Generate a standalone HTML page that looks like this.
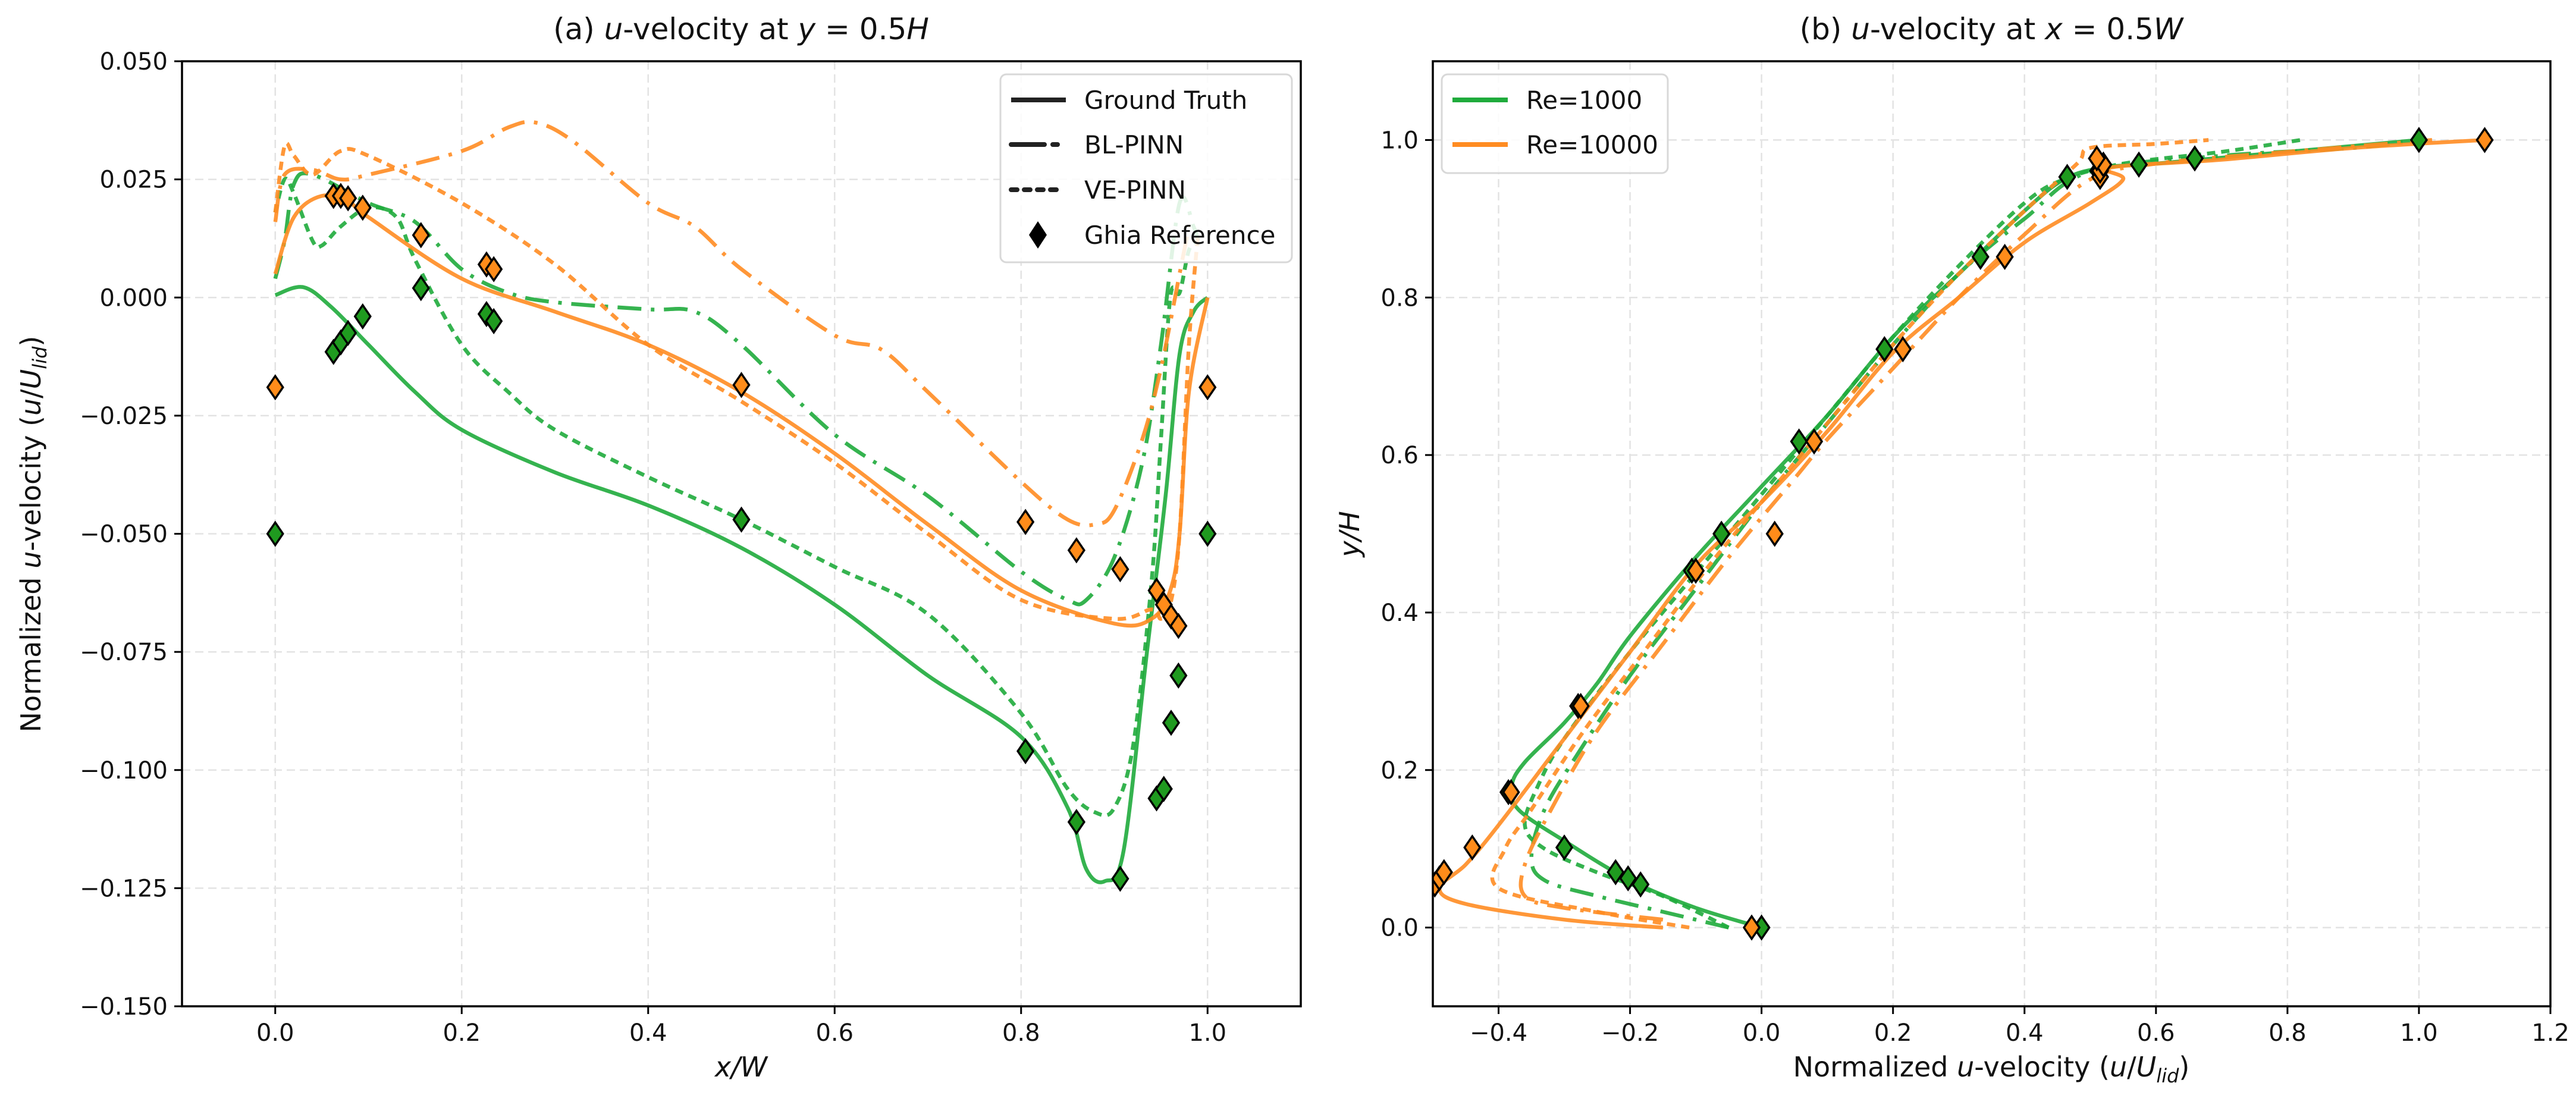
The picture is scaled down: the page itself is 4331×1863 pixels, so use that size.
<!DOCTYPE html>
<html><head><meta charset="utf-8"><style>
html,body{margin:0;padding:0;background:#fff;}
svg{display:block;font-family:"DejaVu Sans","Liberation Sans",sans-serif;}
</style></head><body>
<svg id="fig" width="4331" height="1863" viewBox="0 0 4331 1863" xmlns="http://www.w3.org/2000/svg">
<rect width="4331" height="1863" fill="#fff"/>
<g id="pa"></g>
<g id="pb"></g>
</svg>
<script>
// ---------- Panel (a) data: u at y=0.5H, series are [x, u] ----------
const aGreenGT=[[0,0.0005],[0.03,0.0022],[0.06,-0.002],[0.1,-0.01],[0.15,-0.02],[0.2,-0.028],[0.3,-0.037],[0.4,-0.044],[0.5,-0.053],[0.6,-0.065],[0.7,-0.080],[0.8,-0.093],[0.85,-0.108],[0.87,-0.121],[0.89,-0.1235],[0.91,-0.117],[0.935,-0.075],[0.955,-0.042],[0.97,-0.012],[0.985,-0.003],[1.0,0.0]];
const aGreenBL=[[0,0.004],[0.01,0.012],[0.02,0.024],[0.04,0.026],[0.1,0.020],[0.15,0.016],[0.2,0.006],[0.25,0.001],[0.3,-0.001],[0.4,-0.0025],[0.45,-0.003],[0.5,-0.010],[0.6,-0.029],[0.7,-0.042],[0.8,-0.058],[0.85,-0.064],[0.87,-0.064],[0.9,-0.055],[0.93,-0.035],[0.95,-0.01],[0.97,0.02],[0.985,0.015],[0.99,0.012]];
const aGreenVE=[[0,0.018],[0.01,0.025],[0.02,0.022],[0.04,0.012],[0.05,0.011],[0.07,0.015],[0.1,0.019],[0.13,0.017],[0.15,0.008],[0.2,-0.010],[0.25,-0.020],[0.3,-0.028],[0.4,-0.038],[0.5,-0.047],[0.6,-0.057],[0.7,-0.067],[0.8,-0.088],[0.85,-0.104],[0.88,-0.109],[0.9,-0.108],[0.92,-0.095],[0.94,-0.060],[0.95,-0.030],[0.96,0.0],[0.97,0.001],[0.98,0.01],[0.99,0.012]];
const aOrangeGT=[[0,0.005],[0.02,0.017],[0.05,0.0215],[0.08,0.020],[0.1,0.017],[0.2,0.004],[0.3,-0.003],[0.4,-0.010],[0.5,-0.020],[0.6,-0.033],[0.7,-0.048],[0.8,-0.062],[0.9,-0.069],[0.94,-0.068],[0.96,-0.062],[0.97,-0.050],[0.98,-0.02],[1.0,0.0]];
const aOrangeBL=[[0,0.016],[0.01,0.026],[0.04,0.027],[0.07,0.025],[0.1,0.026],[0.2,0.031],[0.25,0.036],[0.28,0.037],[0.32,0.033],[0.4,0.020],[0.45,0.015],[0.5,0.006],[0.6,-0.008],[0.65,-0.011],[0.7,-0.020],[0.8,-0.039],[0.85,-0.047],[0.88,-0.048],[0.9,-0.045],[0.93,-0.030],[0.95,-0.015],[0.97,0.005],[0.98,0.015]];
const aOrangeVE=[[0,0.018],[0.01,0.032],[0.02,0.030],[0.04,0.026],[0.07,0.031],[0.1,0.030],[0.2,0.020],[0.3,0.007],[0.4,-0.010],[0.5,-0.022],[0.6,-0.035],[0.7,-0.050],[0.8,-0.064],[0.9,-0.068],[0.94,-0.066],[0.95,-0.068],[0.96,-0.065],[0.97,-0.050],[0.98,-0.01],[0.99,0.014]];
const aGhiaX=[0,0.0625,0.0703,0.0781,0.0938,0.1563,0.2266,0.2344,0.5,0.8047,0.8594,0.9063,0.9453,0.9531,0.9609,0.9688,1.0];
const aGhiaGreen=[-0.050,-0.0115,-0.0095,-0.0075,-0.004,0.002,-0.0035,-0.005,-0.047,-0.096,-0.111,-0.123,-0.106,-0.104,-0.090,-0.080,-0.050];
const aGhiaOrange=[-0.019,0.0215,0.0215,0.021,0.019,0.0132,0.007,0.006,-0.0185,-0.0475,-0.0535,-0.0575,-0.062,-0.065,-0.0675,-0.0695,-0.019];
const aXTicks=[0,0.2,0.4,0.6,0.8,1.0];
const aXTickLabels=["0.0","0.2","0.4","0.6","0.8","1.0"];
const aYTicks=[-0.150,-0.125,-0.100,-0.075,-0.050,-0.025,0,0.025,0.050];
const aYTickLabels=["\u22120.150","\u22120.125","\u22120.100","\u22120.075","\u22120.050","\u22120.025","0.000","0.025","0.050"];

// ---------- Panel (b) data: u at x=0.5W, series are [u, y] ----------
const bGreenGT=[[0,0],[-0.1,0.025],[-0.2,0.06],[-0.3,0.11],[-0.37,0.15],[-0.38,0.18],[-0.36,0.21],[-0.3,0.26],[-0.25,0.31],[-0.2,0.37],[-0.1,0.47],[0,0.56],[0.1,0.65],[0.2,0.75],[0.3,0.83],[0.4,0.91],[0.46,0.95],[0.52,0.965],[0.6,0.97],[0.8,0.985],[1.0,1.0]];
const bGreenBL=[[-0.05,0.0],[-0.15,0.02],[-0.25,0.04],[-0.33,0.06],[-0.35,0.09],[-0.33,0.15],[-0.28,0.22],[-0.2,0.32],[-0.1,0.43],[0,0.54],[0.1,0.64],[0.2,0.74],[0.3,0.83],[0.4,0.90],[0.5,0.96],[0.7,0.98],[0.9,0.99],[1.0,1.0]];
const bGreenVE=[[-0.05,0.0],[-0.15,0.04],[-0.25,0.07],[-0.33,0.1],[-0.36,0.13],[-0.34,0.18],[-0.3,0.24],[-0.2,0.35],[-0.1,0.45],[0,0.55],[0.1,0.65],[0.2,0.75],[0.3,0.84],[0.4,0.92],[0.46,0.95],[0.55,0.97],[0.7,0.985],[0.82,1.0]];
const bOrangeGT=[[-0.15,0.0],[-0.3,0.01],[-0.45,0.03],[-0.49,0.05],[-0.45,0.08],[-0.4,0.13],[-0.3,0.24],[-0.2,0.35],[-0.1,0.46],[0,0.54],[0.1,0.63],[0.2,0.73],[0.3,0.80],[0.4,0.87],[0.5,0.92],[0.55,0.95],[0.53,0.965],[0.7,0.975],[0.9,0.99],[1.1,1.0]];
const bOrangeBL=[[-0.15,0.01],[-0.3,0.025],[-0.36,0.04],[-0.36,0.08],[-0.32,0.15],[-0.25,0.25],[-0.15,0.36],[-0.05,0.47],[0.05,0.57],[0.1,0.62],[0.2,0.71],[0.3,0.80],[0.4,0.88],[0.5,0.95],[0.6,0.97],[0.8,0.985],[1.02,1.0]];
const bOrangeVE=[[-0.11,0.0],[-0.25,0.02],[-0.4,0.05],[-0.39,0.1],[-0.35,0.15],[-0.27,0.25],[-0.17,0.36],[-0.07,0.47],[0.03,0.57],[0.13,0.67],[0.2,0.74],[0.3,0.83],[0.4,0.91],[0.48,0.97],[0.5,0.99],[0.6,0.995],[0.68,1.0]];
const bGhiaY=[0,0.0547,0.0625,0.0703,0.1016,0.1719,0.2813,0.4531,0.5,0.6172,0.7344,0.8516,0.9531,0.9609,0.9688,0.9766,1.0];
const bGhiaGreen=[0,-0.184,-0.203,-0.222,-0.300,-0.385,-0.279,-0.106,-0.061,0.057,0.187,0.333,0.465,0.512,0.574,0.659,1.0];
const bGhiaOrange=[-0.015,-0.497,-0.49,-0.483,-0.44,-0.381,-0.275,-0.10,0.02,0.08,0.215,0.37,0.515,0.515,0.52,0.51,1.10];
const bXTicks=[-0.4,-0.2,0,0.2,0.4,0.6,0.8,1.0,1.2];
const bXTickLabels=["\u22120.4","\u22120.2","0.0","0.2","0.4","0.6","0.8","1.0","1.2"];
const bYTicks=[0,0.2,0.4,0.6,0.8,1.0];
const bYTickLabels=["0.0","0.2","0.4","0.6","0.8","1.0"];

const NS="http://www.w3.org/2000/svg";
const GREEN="#1fab3c", ORANGE="#ff8c22", GMARK="#1f9a1f", OMARK="#ff8c1a";
function mk(tag,attrs,parent){const e=document.createElementNS(NS,tag);for(const k in attrs)e.setAttribute(k,attrs[k]);parent.appendChild(e);return e;}
function smoothPath(pts){
  let d="M"+pts[0][0].toFixed(1)+","+pts[0][1].toFixed(1);
  for(let i=0;i<pts.length-1;i++){
    const p0=pts[Math.max(i-1,0)],p1=pts[i],p2=pts[i+1],p3=pts[Math.min(i+2,pts.length-1)];
    const c1=[p1[0]+(p2[0]-p0[0])/6,p1[1]+(p2[1]-p0[1])/6];
    const c2=[p2[0]-(p3[0]-p1[0])/6,p2[1]-(p3[1]-p1[1])/6];
    d+="C"+c1[0].toFixed(1)+","+c1[1].toFixed(1)+" "+c2[0].toFixed(1)+","+c2[1].toFixed(1)+" "+p2[0].toFixed(1)+","+p2[1].toFixed(1);
  }
  return d;
}
const DASH={solid:null,dashdot:"40,16,6,16",dotted:"14,10"};
function drawAxes(g,L,R,T,B,sx,sy,xt,xtl,yt,ytl){
  for(let i=0;i<xt.length;i++){
    const x=sx(xt[i]);
    const gl=mk("line",{x1:x,x2:x,y1:T,y2:B,stroke:"#e3e3e3","stroke-width":2.5,"stroke-dasharray":"14,8"},g);
    
    
    const tk=mk("line",{x1:x,x2:x,y1:B,y2:B+13,stroke:"#000","stroke-width":3},g);
    
    
    const t=mk("text",{x:x,y:B+58,"text-anchor":"middle","font-size":40,fill:"#111"},g);
    t.textContent=xtl[i];
    
    
  }
  for(let i=0;i<yt.length;i++){
    const y=sy(yt[i]);
    const gl=mk("line",{x1:L,x2:R,y1:y,y2:y,stroke:"#e3e3e3","stroke-width":2.5,"stroke-dasharray":"14,8"},g);
    
    
    const tk=mk("line",{x1:L-13,x2:L,y1:y,y2:y,stroke:"#000","stroke-width":3},g);
    
    
    const t=mk("text",{x:L-24,y:y+14,"text-anchor":"end","font-size":40,fill:"#111"},g);
    t.textContent=ytl[i];
    
    
  }
}
function drawLine(g,data,sx,sy,color,style,name){
  const pts=data.map(p=>[sx(p[0]),sy(p[1])]);
  const a={d:smoothPath(pts),fill:"none",stroke:color,"stroke-width":6.5,"stroke-opacity":0.9,"stroke-linejoin":"round"};
  if(DASH[style])a["stroke-dasharray"]=DASH[style];
  const p=mk("path",a,g);
  
  
}
function diamond(g,x,y,color,name){
  const p=mk("path",{d:`M${x},${y-19}L${x+13},${y}L${x},${y+19}L${x-13},${y}Z`,fill:color,stroke:"#000","stroke-width":3.5},g);
  
  
}
function frame(g,L,R,T,B){
  const r=mk("rect",{x:L,y:T,width:R-L,height:B-T,fill:"none",stroke:"#000","stroke-width":3.5},g);
  
  
}

// ----- Panel a -----
(function(){
  const g=document.getElementById("pa");
  const L=306,R=2187,T=103,B=1692;
  const sx=v=>L+(v+0.1)/1.2*(R-L), sy=v=>B-(v+0.150)/0.200*(B-T);
  drawAxes(g,L,R,T,B,sx,sy,aXTicks,aXTickLabels,aYTicks,aYTickLabels);
  const cg=mk("g",{},g);
  drawLine(cg,aGreenGT,sx,sy,GREEN,"solid","green-ground-truth-line");
  drawLine(cg,aGreenBL,sx,sy,GREEN,"dashdot","green-bl-pinn-line");
  drawLine(cg,aGreenVE,sx,sy,GREEN,"dotted","green-ve-pinn-line");
  drawLine(cg,aOrangeGT,sx,sy,ORANGE,"solid","orange-ground-truth-line");
  drawLine(cg,aOrangeBL,sx,sy,ORANGE,"dashdot","orange-bl-pinn-line");
  drawLine(cg,aOrangeVE,sx,sy,ORANGE,"dotted","orange-ve-pinn-line");
  for(let i=0;i<aGhiaX.length;i++)diamond(cg,sx(aGhiaX[i]),sy(aGhiaGreen[i]),GMARK,"ghia-marker-re1000");
  for(let i=0;i<aGhiaX.length;i++)diamond(cg,sx(aGhiaX[i]),sy(aGhiaOrange[i]),OMARK,"ghia-marker-re10000");
  frame(g,L,R,T,B);
})();

// ----- Panel b -----
(function(){
  const g=document.getElementById("pb");
  const L=2409,R=4288,T=103,B=1692;
  const sx=v=>L+(v+0.5)/1.7*(R-L), sy=v=>B-(v+0.1)/1.2*(B-T);
  drawAxes(g,L,R,T,B,sx,sy,bXTicks,bXTickLabels,bYTicks,bYTickLabels);
  const cg=mk("g",{},g);
  drawLine(cg,bGreenGT,sx,sy,GREEN,"solid","green-ground-truth-line");
  drawLine(cg,bGreenBL,sx,sy,GREEN,"dashdot","green-bl-pinn-line");
  drawLine(cg,bGreenVE,sx,sy,GREEN,"dotted","green-ve-pinn-line");
  drawLine(cg,bOrangeGT,sx,sy,ORANGE,"solid","orange-ground-truth-line");
  drawLine(cg,bOrangeBL,sx,sy,ORANGE,"dashdot","orange-bl-pinn-line");
  drawLine(cg,bOrangeVE,sx,sy,ORANGE,"dotted","orange-ve-pinn-line");
  for(let i=0;i<bGhiaY.length;i++)diamond(cg,sx(bGhiaGreen[i]),sy(bGhiaY[i]),GMARK,"ghia-marker-re1000");
  for(let i=0;i<bGhiaY.length;i++)diamond(cg,sx(bGhiaOrange[i]),sy(bGhiaY[i]),OMARK,"ghia-marker-re10000");
  const cp=mk("clipPath",{id:"cb"},g);
  mk("rect",{x:L,y:T,width:R-L,height:B-T},cp);
  cg.setAttribute("clip-path","url(#cb)");
  frame(g,L,R,T,B);
})();
</script>
<script>
// static text and legends
(function(){
  const s=document.getElementById("fig");
  s.insertAdjacentHTML("beforeend",`
  <text x="1246" y="66" text-anchor="middle" font-size="50" fill="#111">(a) <tspan font-style="italic">u</tspan>-velocity at <tspan font-style="italic">y</tspan> = 0.5<tspan font-style="italic">H</tspan></text>
  <text x="3348" y="66" text-anchor="middle" font-size="50" fill="#111">(b) <tspan font-style="italic">u</tspan>-velocity at <tspan font-style="italic">x</tspan> = 0.5<tspan font-style="italic">W</tspan></text>
  <text x="1246" y="1810" text-anchor="middle" font-size="46" fill="#111" font-style="italic">x/W</text>
  <text x="3348" y="1810" text-anchor="middle" font-size="46" fill="#111">Normalized <tspan font-style="italic">u</tspan>-velocity (<tspan font-style="italic">u</tspan>/<tspan font-style="italic">U</tspan><tspan font-style="italic" font-size="32" dy="10">lid</tspan><tspan dy="-10">)</tspan></text>
  <text transform="translate(68,898) rotate(-90)" text-anchor="middle" font-size="46" fill="#111">Normalized <tspan font-style="italic">u</tspan>-velocity (<tspan font-style="italic">u</tspan>/<tspan font-style="italic">U</tspan><tspan font-style="italic" font-size="32" dy="10">lid</tspan><tspan dy="-10">)</tspan></text>
  <text transform="translate(2285,898) rotate(-90)" text-anchor="middle" font-size="46" fill="#111" font-style="italic">y/H</text>
  <g>
    <rect x="1682" y="125" width="490" height="316" rx="10" fill="#fff" fill-opacity="0.85" stroke="#d8d8d8" stroke-width="3"/>
    <line x1="1700" x2="1792" y1="168" y2="168" stroke="#222" stroke-width="8"/>
    <text x="1823" y="183" font-size="42" fill="#111">Ground Truth</text>
    <line x1="1700" x2="1782" y1="243" y2="243" stroke="#222" stroke-width="8" stroke-dasharray="56,14,8,14" stroke-linecap="round"/>
    <text x="1823" y="258" font-size="42" fill="#111">BL-PINN</text>
    <line x1="1700" x2="1782" y1="319" y2="319" stroke="#222" stroke-width="8" stroke-dasharray="10,12" stroke-linecap="round"/>
    <text x="1823" y="334" font-size="42" fill="#111">VE-PINN</text>
    <path d="M1745,372L1760,395L1745,418L1730,395Z" fill="#000"/>
    <text x="1823" y="410" font-size="42" fill="#111">Ghia Reference</text>
  </g>
  <g>
    <rect x="2424" y="125" width="380" height="166" rx="10" fill="#fff" fill-opacity="0.85" stroke="#d8d8d8" stroke-width="3"/>
    <line x1="2442" x2="2535" y1="168" y2="168" stroke="${GREEN}" stroke-width="8"/>
    <text x="2566" y="183" font-size="42" fill="#111">Re=1000</text>
    <line x1="2442" x2="2535" y1="243" y2="243" stroke="${ORANGE}" stroke-width="8"/>
    <text x="2566" y="258" font-size="42" fill="#111">Re=10000</text>
  </g>`);
})();
</script>
</body></html>
